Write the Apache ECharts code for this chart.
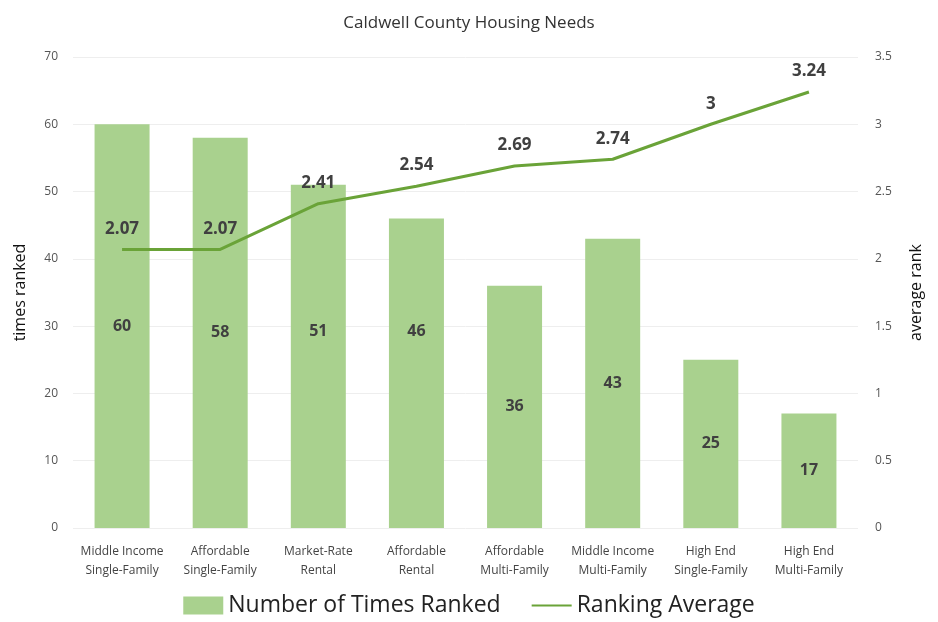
<!DOCTYPE html>
<html>
<head>
<meta charset="utf-8">
<script src="https://cdn.jsdelivr.net/npm/echarts@6/dist/echarts.min.js"></script>
<style>
  html, body { margin: 0; padding: 0; background: #fff; }
  #chart { width: 938px; height: 622px; }
</style>
</head>
<body>
<div id="chart"></div>
<script>
const categories = [
  'Middle Income\nSingle-Family', 'Affordable\nSingle-Family', 'Market-Rate\nRental',
  'Affordable\nRental', 'Affordable\nMulti-Family', 'Middle Income\nMulti-Family',
  'High End\nSingle-Family', 'High End\nMulti-Family'
]
const timesRanked = [60, 58, 51, 46, 36, 43, 25, 17]
const rankingAverage = [2.07, 2.07, 2.41, 2.54, 2.69, 2.74, 3, 3.24]

// excel nudged two bar labels up, away from the line
const labelShift = { 2: -25, 3: -42 }

const chart = echarts.init(document.getElementById('chart'))
chart.setOption({
  backgroundColor: '#fff',
  textStyle: { fontFamily: 'Open Sans' },
  title: {
    text: 'Caldwell County Housing Needs',
    left: 'center',
    top: 10,
    textStyle: { color: '#333', fontSize: 17, fontWeight: 'normal' }
  },
  legend: {
    bottom: 0,
    itemGap: 30,
    itemWidth: 40,
    itemHeight: 18,
    textStyle: { color: '#222', fontSize: 23 },
    data: [
      { name: 'Number of Times Ranked', icon: 'rect' },
      { name: 'Ranking Average', itemStyle: { opacity: 0 } }
    ]
  },
  grid: { left: 73, right: 80, top: 57, bottom: 94 },
  xAxis: {
    type: 'category',
    data: categories,
    axisLine: { show: false },
    axisTick: { show: false },
    axisLabel: { color: '#444', fontSize: 12, lineHeight: 19, margin: 14, interval: 0 }
  },
  yAxis: [{
    type: 'value',
    name: 'times ranked',
    nameLocation: 'middle',
    nameGap: 45,
    nameTextStyle: { color: '#111', fontSize: 16 },
    min: 0, max: 70, interval: 10,
    axisLabel: { color: '#555', fontSize: 12, margin: 15 },
    splitLine: { lineStyle: { color: '#eee' } }
  }, {
    type: 'value',
    name: 'average rank',
    nameLocation: 'middle',
    nameGap: 50,
    nameRotate: 90,
    nameTextStyle: { color: '#111', fontSize: 16 },
    min: 0, max: 3.5, interval: 0.5,
    axisLabel: { color: '#555', fontSize: 12, margin: 17 },
    splitLine: { show: false }
  }],
  series: [{
    name: 'Number of Times Ranked',
    type: 'bar',
    data: timesRanked.map((v, i) => labelShift[i]
      ? { value: v, label: { offset: [0, labelShift[i]] } }
      : v),
    barWidth: 55,
    itemStyle: { color: '#a9d18e' },
    label: {
      show: true,
      position: 'inside',
      color: '#404040',
      fontSize: 16,
      fontWeight: 'bold'
    }
  }, {
    name: 'Ranking Average',
    type: 'line',
    yAxisIndex: 1,
    data: rankingAverage,
    symbol: 'circle',
    symbolSize: 0.1,
    showSymbol: true,
    lineStyle: { color: '#6aa338', width: 3 },
    itemStyle: { color: '#6aa338' },
    label: {
      show: true,
      position: 'top',
      distance: 12,
      color: '#404040',
      fontSize: 17,
      fontWeight: 'bold'
    }
  }]
})
</script>
</body>
</html>
